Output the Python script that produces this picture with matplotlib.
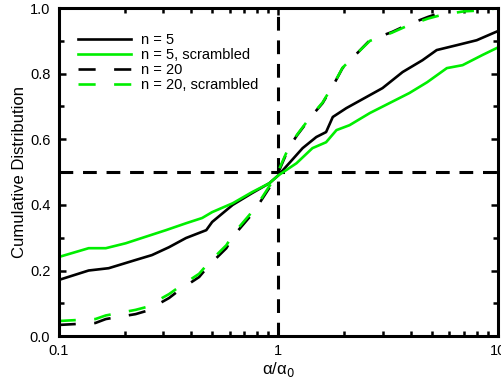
import numpy as np
import matplotlib.pyplot as plt
from matplotlib.ticker import FixedLocator, NullFormatter, FixedFormatter

plt.rcParams['font.family'] = ['Liberation Sans', 'DejaVu Sans']

# n = 5 (black solid)
x5 = [0.1, 0.137, 0.169, 0.224, 0.266, 0.318, 0.38, 0.47, 0.50, 0.62, 0.76, 0.91, 1.0,
      1.12, 1.29, 1.49, 1.65, 1.77, 2.04, 2.52, 2.98, 3.68, 4.53, 5.26, 6.5, 8.0, 10.0]
y5 = [0.171, 0.20, 0.207, 0.232, 0.247, 0.271, 0.299, 0.323, 0.348, 0.40, 0.436, 0.466, 0.49,
      0.527, 0.573, 0.607, 0.622, 0.668, 0.695, 0.729, 0.756, 0.805, 0.841, 0.872, 0.887, 0.902, 0.93]

# n = 5, scrambled (green solid)
x5s = [0.1, 0.137, 0.164, 0.202, 0.239, 0.308, 0.38, 0.45, 0.50, 0.62, 0.76, 0.91, 1.0,
       1.21, 1.43, 1.65, 1.84, 2.11, 2.61, 3.2, 3.95, 4.76, 5.85, 6.9, 8.5, 10.0]
y5s = [0.241, 0.268, 0.268, 0.283, 0.299, 0.323, 0.344, 0.36, 0.378, 0.405, 0.439, 0.466, 0.49,
       0.527, 0.573, 0.591, 0.628, 0.643, 0.68, 0.71, 0.741, 0.774, 0.817, 0.826, 0.857, 0.88]

# n = 20 (black dashed)
x20 = [0.1, 0.147, 0.164, 0.224, 0.249, 0.318, 0.354, 0.436, 0.484, 0.58, 0.63, 0.74, 0.82, 0.98,
       1.12, 1.22, 1.43, 1.59, 1.8, 1.96, 2.29, 2.61, 3.29, 3.84, 4.8, 5.6, 6.0, 10.0]
y20 = [0.034, 0.04, 0.052, 0.067, 0.076, 0.116, 0.14, 0.18, 0.216, 0.268, 0.308, 0.363, 0.405, 0.485,
       0.576, 0.613, 0.674, 0.71, 0.771, 0.817, 0.863, 0.902, 0.927, 0.948, 0.973, 0.988, 1.0, 1.0]

# n = 20, scrambled (green dashed)
x20s = [0.1, 0.147, 0.164, 0.224, 0.249, 0.318, 0.354, 0.436, 0.484, 0.58, 0.63, 0.74, 0.82, 0.98,
        1.12, 1.22, 1.43, 1.59, 1.8, 1.96, 2.29, 2.61, 3.29, 3.84, 4.8, 5.6, 7.0, 8.5, 10.0]
y20s = [0.046, 0.052, 0.063, 0.08, 0.088, 0.128, 0.15, 0.19, 0.225, 0.277, 0.315, 0.37, 0.41, 0.49,
        0.578, 0.615, 0.676, 0.712, 0.772, 0.818, 0.863, 0.90, 0.925, 0.945, 0.968, 0.98, 0.99, 0.993, 1.0]

green = '#00ee00'
fig = plt.figure(figsize=(5.01, 3.85), dpi=100)
ax = fig.add_axes([0.117, 0.127, 0.877, 0.852])

ax.axhline(0.5, color='black', lw=2.2, dashes=(4.5, 3.2))
ax.axvline(1.0, color='black', lw=2.2, dashes=(4.5, 3.2))

lw = 1.9
ax.plot(x5, y5, color='black', lw=lw, label='n = 5')
ax.plot(x5s, y5s, color=green, lw=lw, label='n = 5, scrambled')
ax.plot(x20, y20, color='black', lw=lw, dashes=(6.5, 7), label='n = 20')
ax.plot(x20s, y20s, color=green, lw=lw, dashes=(6.5, 7), label='n = 20, scrambled')

ax.set_xscale('log')
ax.set_xlim(0.1, 10)
ax.set_ylim(0, 1)
ax.xaxis.set_major_locator(FixedLocator([0.1, 1, 10]))
ax.xaxis.set_major_formatter(FixedFormatter(['0.1', '1', '10']))
minors = [m * d for d in (0.1, 1) for m in range(2, 10)]
ax.xaxis.set_minor_locator(FixedLocator(minors))
ax.xaxis.set_minor_formatter(NullFormatter())
ax.set_yticks(np.arange(0, 1.01, 0.2))
ax.set_yticklabels(['0.0', '0.2', '0.4', '0.6', '0.8', '1.0'])
ax.set_yticks(np.arange(0.1, 1.0, 0.2), minor=True)

ax.tick_params(which='both', direction='in', top=True, right=True, width=1.8, labelsize=10.5)
ax.tick_params(which='major', length=5)
ax.tick_params(which='minor', length=3.5)
ax.tick_params(axis='x', which='major', pad=6)
ax.tick_params(axis='y', which='major', pad=6)
for s in ax.spines.values():
    s.set_linewidth(2.2)

ax.set_xlabel('α/α$_0$', fontsize=12, labelpad=1)
ax.set_ylabel('Cumulative Distribution', fontsize=12, labelpad=2)

ax.legend(loc='upper left', frameon=False, fontsize=10.5, handlelength=3.7,
          handletextpad=0.65, labelspacing=0.07, borderpad=0, borderaxespad=0,
          bbox_to_anchor=(0.043, 0.925))

fig.savefig('out.png', dpi=100)
